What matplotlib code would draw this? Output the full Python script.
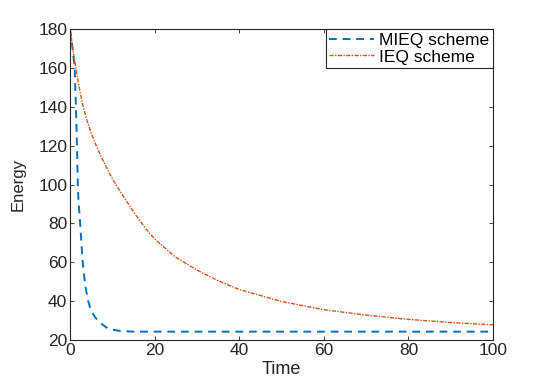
import matplotlib
matplotlib.use('Agg')
import matplotlib.pyplot as plt
import numpy as np
#-------------------------------
# Data
t_mieq = [0, 0.5, 1.1, 1.4, 1.65, 1.85, 2.0, 2.4, 3.0, 3.6, 4.3, 5, 6, 7.3, 8.9, 10, 12, 15, 100]
e_mieq = [180, 172, 160, 140, 120, 100, 92, 80, 60, 48, 40, 35, 31.5, 28.6, 26, 25.3, 24.6, 24.3, 24.3]

t_ieq = [0, 1, 2, 3, 4, 5, 6, 7, 8, 10, 12, 15, 18, 20, 25, 30, 35, 40, 50, 60, 70, 80, 90, 100]
e_ieq = [180, 165, 152, 141, 133, 126.5, 121, 116, 111.5, 103, 96, 86, 77, 72, 62.5, 56, 50.5, 46, 39.8, 35.6, 32.8, 30.6, 29, 27.8]

x_ticks = [0, 20, 40, 60, 80, 100]
y_ticks = [20, 40, 60, 80, 100, 120, 140, 160, 180]
#-------------------------------
plt.rcParams['font.family'] = ['Liberation Sans', 'DejaVu Sans']
axcol = '#262626'

fig = plt.figure(figsize=(5.45, 3.82), dpi=100)
ax = fig.add_axes([70/545, 1-340/382, 423/545, 311/382])

ax.plot(t_mieq, e_mieq, '--', color='#0072BD', lw=1.4, dashes=(4, 3), label='MIEQ scheme')
ax.plot(t_ieq, e_ieq, '-.', color='#D95319', lw=1.0, dashes=(3, 1, 1, 1), label='IEQ scheme')

ax.set_xlim(0, 100)
ax.set_ylim(20, 180)
ax.set_xticks(x_ticks)
ax.set_yticks(y_ticks)
ax.tick_params(direction='in', top=True, right=True, length=3, width=0.6,
               colors=axcol, labelsize=12.5, pad=2)
for s in ax.spines.values():
    s.set_color(axcol)
    s.set_linewidth(0.8)

ax.set_xlabel('Time', fontsize=13, color=axcol, labelpad=2)
ax.set_ylabel('Energy', fontsize=12, color=axcol, labelpad=9)

leg = plt.legend(loc='upper right', borderaxespad=0, fontsize=12.5, fancybox=False,
                 framealpha=1, handlelength=2.6, handletextpad=0.3,
                 borderpad=0.2, labelspacing=0.1)
leg.get_frame().set_edgecolor(axcol)
leg.get_frame().set_linewidth(0.8)

fig.savefig('out.png', dpi=100)
